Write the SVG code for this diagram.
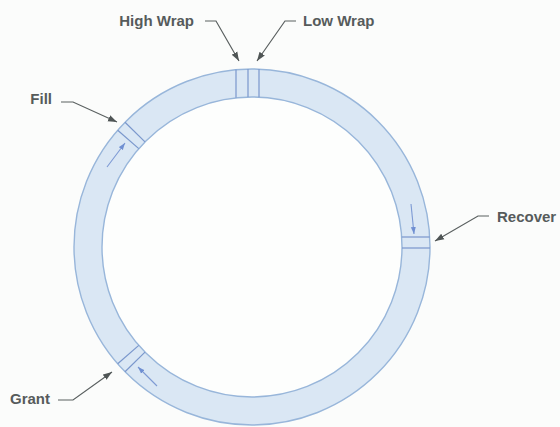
<svg xmlns="http://www.w3.org/2000/svg" width="560" height="427" viewBox="0 0 560 427">
  <defs>
    <marker id="ah" markerUnits="userSpaceOnUse" markerWidth="10" markerHeight="8" refX="9" refY="4" orient="auto">
      <path d="M0,0.8 L9,4 L0,7.2 Z" fill="#4f5555"/>
    </marker>
    <marker id="bh" markerUnits="userSpaceOnUse" markerWidth="8" markerHeight="6" refX="7" refY="3" orient="auto">
      <path d="M0,0.5 L7,3 L0,5.5 Z" fill="#6f8fd2"/>
    </marker>
    <style>
      .lbl { font-family: "Liberation Sans", Arial, sans-serif; font-weight: bold; font-size: 15px; fill: #565b5b; }
      .lead { fill: none; stroke: #5a6060; stroke-width: 1.2; marker-end: url(#ah); }
      .slot { stroke: #7a97cc; stroke-width: 1.2; }
      .flow { stroke: #7d9ad4; stroke-width: 1.1; marker-end: url(#bh); }
    </style>
  </defs>
  <rect width="560" height="427" fill="#fbfcfb"/>

  <g id="ring">
    <circle cx="252" cy="247" r="178" fill="#dae7f4" stroke="#98b6da" stroke-width="1.4"/>
    <circle cx="252" cy="247" r="150" fill="#fdfefd" stroke="#98b6da" stroke-width="1.4"/>
  </g>

  <g id="wrap-slots">
    <line class="slot" x1="236" y1="69.5" x2="236" y2="97.8"/>
    <line class="slot" x1="248" y1="69" x2="248" y2="97"/>
    <line class="slot" x1="259" y1="69" x2="259" y2="97.2"/>
  </g>

  <g id="fill-slot">
    <line class="slot" x1="117.7" y1="130.2" x2="138.8" y2="148.6"/>
    <line class="slot" x1="125" y1="122.2" x2="145" y2="141.9"/>
    <line class="flow" x1="107" y1="167" x2="125" y2="143"/>
  </g>

  <g id="recover-slot">
    <line class="slot" x1="401.7" y1="237" x2="429.7" y2="237"/>
    <line class="slot" x1="402" y1="248" x2="430" y2="248"/>
    <line class="flow" x1="411" y1="204" x2="414" y2="234"/>
  </g>

  <g id="grant-slot">
    <line class="slot" x1="117.7" y1="363.8" x2="138.8" y2="345.4"/>
    <line class="slot" x1="125" y1="371.8" x2="145" y2="352.1"/>
    <line class="flow" x1="157" y1="386" x2="138" y2="367"/>
  </g>

  <g id="labels">
    <text class="lbl" x="194" y="26" text-anchor="end">High Wrap</text>
    <text class="lbl" x="303" y="26">Low Wrap</text>
    <text class="lbl" x="52" y="104" text-anchor="end">Fill</text>
    <text class="lbl" x="497" y="222">Recover</text>
    <text class="lbl" x="50" y="404" text-anchor="end">Grant</text>
  </g>

  <g id="connectors">
    <polyline class="lead" points="205,21 216,21 239,61"/>
    <polyline class="lead" points="296,21 285,21 257,61"/>
    <polyline class="lead" points="61,102 73,102 117,122"/>
    <polyline class="lead" points="489,216 478,216 435,241"/>
    <polyline class="lead" points="58,400 73,400 112,372"/>
  </g>
</svg>
